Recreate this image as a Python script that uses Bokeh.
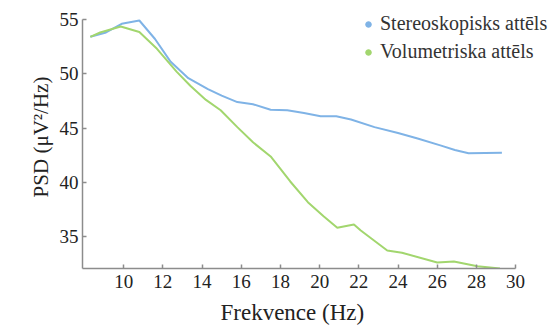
from bokeh.plotting import figure
from bokeh.models import Legend, LegendItem, FixedTicker, Range1d, Title
from bokeh.embed import file_html
from bokeh.resources import INLINE

# Data
stereo_freq = [8.3, 9.1, 9.9, 10.8, 11.6, 12.4, 13.3, 14.3, 15.0, 15.8, 16.6, 17.5,
               18.35, 19.2, 20.05, 20.85, 21.6, 22.8, 24.0, 25.0, 26.2, 26.9, 27.6, 29.3]
stereo_psd = [53.4, 53.8, 54.6, 54.9, 53.2, 51.1, 49.6, 48.6, 48.0, 47.4, 47.2, 46.7,
              46.65, 46.4, 46.1, 46.1, 45.8, 45.1, 44.55, 44.05, 43.4, 43.0, 42.7, 42.75]

volum_freq = [8.3, 8.8, 9.85, 10.8, 11.7, 12.7, 13.4, 14.2, 14.95, 15.8, 16.6, 17.5,
              18.5, 19.4, 20.2, 20.9, 21.75, 22.1, 23.45, 24.2, 26.0, 26.85, 28.05, 29.2]
volum_psd = [53.4, 53.8, 54.35, 53.85, 52.3, 50.2, 48.9, 47.6, 46.65, 45.1, 43.7, 42.4,
             40.1, 38.2, 36.9, 35.85, 36.15, 35.6, 33.75, 33.55, 32.65, 32.75, 32.3, 32.1]

x_ticks = [10, 12, 14, 16, 18, 20, 22, 24, 26, 28, 30]
y_ticks = [35, 40, 45, 50, 55]
series_names = ["Stereoskopisks attēls", "Volumetriska attēls"]

BLUE = "#7fb3e6"
GREEN = "#a2d66e"
AXIS = "#8c8c8c"
SERIF = "Liberation Serif"

X_MIN, X_MAX = 7.9, 30
Y_MIN, Y_MAX = 32.1, 55

p = figure(width=551, height=332, output_backend="svg", toolbar_location=None,
           x_range=Range1d(X_MIN, 31.78), y_range=Range1d(Y_MIN, 56.28),
           min_border_left=82, min_border_right=1, min_border_top=5, min_border_bottom=10)
p.outline_line_color = None
p.grid.visible = False
p.background_fill_color = "white"
p.border_fill_color = "white"

r1 = p.line(stereo_freq, stereo_psd, line_color=BLUE, line_width=2)
r2 = p.line(volum_freq, volum_psd, line_color=GREEN, line_width=2)

# scatter renderers with no visible points, used only for the legend dots
nan = float("nan")
d1 = p.scatter([nan], [nan], marker="circle", size=8, fill_color=BLUE, line_color=BLUE)
d2 = p.scatter([nan], [nan], marker="circle", size=8, fill_color=GREEN, line_color=GREEN)

for ax in (p.xaxis[0], p.yaxis[0]):
    ax.axis_line_color = AXIS
    ax.axis_line_width = 1.5
    ax.major_tick_line_color = AXIS
    ax.major_tick_line_width = 1.5
    ax.major_tick_in = 4
    ax.major_tick_out = 0
    ax.minor_tick_line_color = None
    ax.major_label_text_font = SERIF
    ax.major_label_text_font_size = "19px"
    ax.major_label_text_color = "#222222"
    ax.axis_label_text_font = SERIF
    ax.axis_label_text_font_style = "normal"
    ax.axis_label_text_color = "#222222"

p.xaxis.bounds = (X_MIN, X_MAX)
p.yaxis.bounds = (Y_MIN, Y_MAX)
p.xaxis.ticker = FixedTicker(ticks=x_ticks)
p.yaxis.ticker = FixedTicker(ticks=y_ticks)
p.xaxis.major_label_standoff = 6
p.yaxis.major_label_standoff = 4
p.yaxis.axis_label = "PSD (μV²/Hz)"
p.yaxis.axis_label_text_font_size = "21px"
p.yaxis.axis_label_standoff = 4

xlabel = Title(text="Frekvence (Hz)", align="left", offset=138, standoff=15,
               text_font=SERIF, text_font_size="23px", text_font_style="normal",
               text_color="#222222")
p.add_layout(xlabel, "below")

legend = Legend(items=[LegendItem(label=series_names[0], renderers=[d1]),
                       LegendItem(label=series_names[1], renderers=[d2])],
                location=(279, 205), border_line_color=None, background_fill_alpha=0,
                label_text_font=SERIF, label_text_font_size="20px",
                label_text_color="#333333", glyph_width=14, glyph_height=14,
                spacing=5, padding=0, margin=0, label_standoff=5)
p.add_layout(legend, "center")

open("out.html", "w").write(file_html(p, INLINE))
